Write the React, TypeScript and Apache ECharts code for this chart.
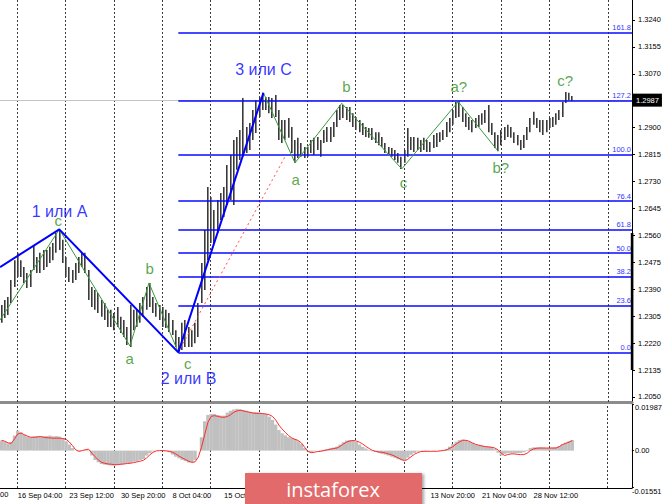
import React, { useEffect, useRef } from 'react';
import * as echarts from 'echarts';

// ---- price bars (8-hour bars), highs and lows ----
const highs = [
  1.2340, 1.2356, 1.2366, 1.2419, 1.2482, 1.2505, 1.2482, 1.2460, 1.2441, 1.2451,
  1.2530, 1.2492, 1.2505, 1.2514, 1.2514, 1.2524, 1.2536, 1.2568, 1.2577, 1.2546,
  1.2492, 1.2460, 1.2451, 1.2473, 1.2492, 1.2505, 1.2505, 1.2451, 1.2397, 1.2388,
  1.2378, 1.2356, 1.2347, 1.2325, 1.2325, 1.2315, 1.2334, 1.2303, 1.2293, 1.2271,
  1.2340, 1.2325, 1.2325, 1.2347, 1.2366, 1.2397, 1.2410, 1.2366, 1.2347, 1.2340,
  1.2334, 1.2325, 1.2315, 1.2293, 1.2261, 1.2239, 1.2284, 1.2293, 1.2271, 1.2261,
  1.2284, 1.2347, 1.2473, 1.2577, 1.2713, 1.2681, 1.2640, 1.2672, 1.2694, 1.2713,
  1.2782, 1.2814, 1.2861, 1.2871, 1.2893, 1.2994, 1.2902, 1.2915, 1.2956, 1.2987,
  1.2997, 1.3010, 1.2997, 1.2997, 1.2994, 1.3003, 1.2956, 1.2924, 1.2924, 1.2931,
  1.2902, 1.2861, 1.2868, 1.2852, 1.2839, 1.2839, 1.2861, 1.2868, 1.2871, 1.2861,
  1.2893, 1.2902, 1.2902, 1.2918, 1.2956, 1.2972, 1.2972, 1.2965, 1.2965, 1.2946,
  1.2934, 1.2924, 1.2915, 1.2902, 1.2899, 1.2899, 1.2886, 1.2886, 1.2871, 1.2852,
  1.2839, 1.2836, 1.2830, 1.2820, 1.2808, 1.2830, 1.2899, 1.2871, 1.2871, 1.2868,
  1.2861, 1.2868, 1.2861, 1.2855, 1.2877, 1.2883, 1.2886, 1.2893, 1.2918, 1.2931,
  1.2956, 1.2981, 1.2984, 1.2965, 1.2946, 1.2934, 1.2924, 1.2931, 1.2940, 1.2946,
  1.2956, 1.2972, 1.2915, 1.2886, 1.2877, 1.2893, 1.2902, 1.2909, 1.2902, 1.2886,
  1.2877, 1.2861, 1.2877, 1.2902, 1.2931, 1.2950, 1.2931, 1.2924, 1.2924, 1.2924,
  1.2931, 1.2934, 1.2946, 1.2956, 1.2981, 1.3013, 1.3010, 1.3000,
];
const lows = [
  1.2284, 1.2299, 1.2309, 1.2347, 1.2397, 1.2429, 1.2429, 1.2410, 1.2394, 1.2397,
  1.2451, 1.2441, 1.2441, 1.2451, 1.2460, 1.2473, 1.2482, 1.2505, 1.2514, 1.2473,
  1.2429, 1.2413, 1.2410, 1.2419, 1.2441, 1.2460, 1.2441, 1.2356, 1.2334, 1.2325,
  1.2315, 1.2303, 1.2293, 1.2271, 1.2271, 1.2261, 1.2271, 1.2252, 1.2239, 1.2214,
  1.2208, 1.2261, 1.2271, 1.2284, 1.2303, 1.2325, 1.2334, 1.2315, 1.2303, 1.2293,
  1.2271, 1.2268, 1.2255, 1.2246, 1.2208, 1.2192, 1.2198, 1.2208, 1.2208, 1.2208,
  1.2220, 1.2239, 1.2347, 1.2388, 1.2482, 1.2536, 1.2536, 1.2568, 1.2609, 1.2618,
  1.2656, 1.2672, 1.2656, 1.2767, 1.2798, 1.2808, 1.2820, 1.2830, 1.2861, 1.2883,
  1.2934, 1.2956, 1.2956, 1.2946, 1.2931, 1.2934, 1.2861, 1.2852, 1.2861, 1.2868,
  1.2820, 1.2789, 1.2804, 1.2808, 1.2804, 1.2808, 1.2820, 1.2814, 1.2830, 1.2808,
  1.2852, 1.2855, 1.2855, 1.2871, 1.2902, 1.2924, 1.2931, 1.2924, 1.2918, 1.2902,
  1.2893, 1.2886, 1.2877, 1.2871, 1.2868, 1.2861, 1.2852, 1.2845, 1.2839, 1.2820,
  1.2814, 1.2808, 1.2798, 1.2789, 1.2770, 1.2789, 1.2808, 1.2830, 1.2823, 1.2830,
  1.2823, 1.2830, 1.2823, 1.2823, 1.2836, 1.2839, 1.2855, 1.2861, 1.2871, 1.2886,
  1.2909, 1.2931, 1.2934, 1.2918, 1.2902, 1.2893, 1.2886, 1.2899, 1.2902, 1.2909,
  1.2915, 1.2886, 1.2877, 1.2836, 1.2826, 1.2845, 1.2861, 1.2871, 1.2868, 1.2852,
  1.2845, 1.2830, 1.2836, 1.2861, 1.2886, 1.2909, 1.2899, 1.2886, 1.2877, 1.2886,
  1.2899, 1.2902, 1.2909, 1.2924, 1.2934, 1.2978, 1.2987, 1.2984,
];

// ---- oscillator (histogram + signal) ----
const oscHist = [
  0.0043, 0.0038, 0.0031, 0.0036, 0.0064, 0.0085, 0.0078, 0.0068, 0.0060, 0.0057,
  0.0060, 0.0061, 0.0061, 0.0061, 0.0062, 0.0064, 0.0061, 0.0062, 0.0060, 0.0054,
  0.0040, 0.0026, 0.0011, 0.0000, -0.0003, 0.0000, 0.0003, -0.0003, -0.0021, -0.0040,
  -0.0050, -0.0057, -0.0060, -0.0062, -0.0064, -0.0064, -0.0061, -0.0060, -0.0057, -0.0054,
  -0.0053, -0.0047, -0.0044, -0.0040, -0.0036, -0.0021, -0.0011, -0.0003, 0.0000, 0.0000,
  0.0000, -0.0001, -0.0007, -0.0017, -0.0026, -0.0033, -0.0040, -0.0045, -0.0051, -0.0050,
  -0.0040, 0.0000, 0.0057, 0.0125, 0.0152, 0.0156, 0.0156, 0.0152, 0.0149, 0.0149,
  0.0162, 0.0170, 0.0175, 0.0178, 0.0176, 0.0173, 0.0170, 0.0166, 0.0163, 0.0163,
  0.0162, 0.0159, 0.0156, 0.0145, 0.0131, 0.0111, 0.0088, 0.0074, 0.0065, 0.0057,
  0.0053, 0.0050, 0.0040, 0.0028, 0.0011, -0.0003, -0.0007, -0.0003, 0.0000, 0.0003,
  0.0004, 0.0007, 0.0010, 0.0013, 0.0017, 0.0026, 0.0036, 0.0043, 0.0045, 0.0044,
  0.0037, 0.0026, 0.0016, 0.0009, 0.0003, -0.0003, -0.0006, -0.0010, -0.0014, -0.0017,
  -0.0021, -0.0026, -0.0031, -0.0037, -0.0041, -0.0040, -0.0030, -0.0018, -0.0010, -0.0004,
  -0.0001, -0.0001, -0.0001, 0.0000, -0.0001, 0.0000, 0.0001, 0.0003, 0.0007, 0.0017,
  0.0028, 0.0038, 0.0045, 0.0047, 0.0045, 0.0038, 0.0033, 0.0027, 0.0023, 0.0020,
  0.0017, 0.0017, 0.0016, 0.0007, -0.0009, -0.0021, -0.0014, -0.0011, -0.0011, -0.0011,
  -0.0011, -0.0010, -0.0007, 0.0003, 0.0011, 0.0014, 0.0014, 0.0014, 0.0013, 0.0011,
  0.0011, 0.0013, 0.0014, 0.0020, 0.0028, 0.0034, 0.0040, 0.0045,
];
const oscSignal = [
  0.0044, 0.0040, 0.0033, 0.0031, 0.0050, 0.0071, 0.0075, 0.0068, 0.0062, 0.0057,
  0.0057, 0.0058, 0.0060, 0.0057, 0.0055, 0.0054, 0.0053, 0.0053, 0.0053, 0.0051,
  0.0048, 0.0037, 0.0021, 0.0003, -0.0003, 0.0000, 0.0004, 0.0006, -0.0011, -0.0026,
  -0.0040, -0.0050, -0.0054, -0.0057, -0.0058, -0.0060, -0.0060, -0.0058, -0.0057, -0.0055,
  -0.0054, -0.0051, -0.0048, -0.0045, -0.0041, -0.0031, -0.0018, -0.0007, -0.0001, 0.0000,
  0.0000, -0.0001, -0.0003, -0.0007, -0.0014, -0.0023, -0.0031, -0.0038, -0.0045, -0.0050,
  -0.0048, -0.0028, 0.0014, 0.0068, 0.0121, 0.0146, 0.0149, 0.0146, 0.0143, 0.0142,
  0.0145, 0.0153, 0.0163, 0.0169, 0.0172, 0.0169, 0.0166, 0.0163, 0.0160, 0.0159,
  0.0159, 0.0158, 0.0156, 0.0153, 0.0146, 0.0131, 0.0109, 0.0092, 0.0078, 0.0064,
  0.0054, 0.0048, 0.0043, 0.0033, 0.0014, -0.0003, -0.0009, -0.0007, -0.0004, -0.0003,
  0.0000, 0.0003, 0.0006, 0.0009, 0.0011, 0.0018, 0.0028, 0.0036, 0.0041, 0.0043,
  0.0041, 0.0036, 0.0028, 0.0018, 0.0009, 0.0001, -0.0003, -0.0006, -0.0007, -0.0010,
  -0.0014, -0.0018, -0.0024, -0.0031, -0.0038, -0.0043, -0.0037, -0.0026, -0.0016, -0.0009,
  -0.0004, -0.0003, -0.0003, -0.0003, -0.0003, -0.0003, -0.0001, 0.0000, 0.0003, 0.0010,
  0.0017, 0.0028, 0.0037, 0.0044, 0.0044, 0.0040, 0.0033, 0.0027, 0.0023, 0.0020,
  0.0017, 0.0016, 0.0014, 0.0011, 0.0003, -0.0011, -0.0021, -0.0017, -0.0014, -0.0014,
  -0.0016, -0.0017, -0.0017, -0.0011, 0.0000, 0.0007, 0.0010, 0.0011, 0.0011, 0.0011,
  0.0011, 0.0011, 0.0011, 0.0017, 0.0026, 0.0031, 0.0036, 0.0043,
];

// ---- axes ----
const timeLabelIdx = [5, 21, 37, 53, 69, 85, 101, 117, 133, 149, 165];
const timeLabels = [
  '16 Sep 04:00', '23 Sep 12:00', '30 Sep 20:00', '8 Oct 04:00', '15 Oct 12:00',
  '22 Oct 20:00', '30 Oct 04:00', '6 Nov 12:00', '13 Nov 20:00', '21 Nov 04:00', '28 Nov 12:00',
];
const weekLines = [4.8, 19.8, 34.8, 49.8, 64.8, 79.8, 94.8, 109.8, 124.8, 139.8, 154.8, 169.8, 188];
const priceTicks = [1.2050, 1.2135, 1.2220, 1.2305, 1.2390, 1.2475, 1.2560, 1.2645, 1.2730, 1.2815, 1.2900, 1.3070, 1.3155, 1.3240];
const oscTicks = [-0.01551, 0, 0.01987];
const oscTickLabels = ['-0.01551', '0.00', '0.01987'];
const currentPrice = 1.2987;

// ---- fibonacci grid ----
const fibLevels = ['0.0', '23.6', '38.2', '50.0', '61.8', '76.4', '100.0', '127.2', '161.8'];
const fibPrices = [1.2191, 1.2339, 1.2431, 1.2504, 1.2578, 1.2668, 1.2815, 1.2986, 1.3201];
const fibStartIdx = 54.8;

// ---- wave markup ----
const majorWaveX = [-0.5, 17.9, 54.8, 81.2];
const majorWaveY = [1.2460, 1.2579, 1.2191, 1.3010];
const minorLeftX = [-0.5, 17.9, 39.8, 45.7, 54.8];
const minorLeftY = [1.2293, 1.2579, 1.2211, 1.2410, 1.2191];
const minorRightX = [81.2, 91, 105.5, 124.1, 141.6, 153.9];
const minorRightY = [1.3010, 1.2789, 1.2977, 1.2770, 1.2982, 1.2827];
const trendX = [54.8, 88.2];
const trendY = [1.2191, 1.2814];
const majorLabels = ['1 или A', '2 или B', '3 или C'];
const majorLabelX = [17.95, 57.95, 81.2];
const majorLabelY = [1.2637, 1.2109, 1.3085];
const minorLabels = ['c', 'a', 'b', 'c', 'a', 'b', 'c', 'a?', 'b?', 'c?'];
const minorLabelX = [17.6, 39.7, 45.9, 57.7, 91.2, 106.9, 124.6, 141.8, 154.8, 174.8];
const minorLabelY = [1.2608, 1.2170, 1.2457, 1.2156, 1.2737, 1.3031, 1.2726, 1.3031, 1.2774, 1.3049];

const FONT = '"Liberation Sans", Arial, sans-serif';
const XMIN = -0.5;
const XMAX = 195.5;

export default function App() {
  const ref = useRef<HTMLDivElement>(null);
  useEffect(() => {
    if (!ref.current) return;
    const chart = echarts.init(ref.current, null, { renderer: 'svg' });
    const zip = (xs: number[], ys: number[]) => xs.map((x, i) => [x, ys[i]]);
    const gridLineData = weekLines.map((x) => ({ xAxis: x }));
    const oscRichKeys = ['lo', 'mid', 'hi'];

    const option: any = {
      animation: false,
      backgroundColor: '#ffffff',
      textStyle: { fontFamily: FONT },
      grid: [
        { left: 0, right: 33, top: 0, height: 402 },
        { left: 0, right: 33, top: 404, height: 84 },
      ],
      xAxis: [
        {
          type: 'value', gridIndex: 0, min: XMIN, max: XMAX,
          axisLine: { show: true, onZero: false, lineStyle: { color: '#8c8c8c', width: 3 } },
          axisTick: { show: false }, axisLabel: { show: false }, splitLine: { show: false },
        },
        {
          type: 'value', gridIndex: 1, min: XMIN, max: XMAX,
          axisLine: { show: true, onZero: false, lineStyle: { color: '#000', width: 1 } },
          axisTick: { show: false }, splitLine: { show: false },
          axisLabel: {
            customValues: timeLabelIdx,
            formatter: (v: number) => timeLabels[timeLabelIdx.indexOf(v)] ?? '',
            align: 'left', fontSize: 7.5, color: '#000', margin: 3, fontFamily: FONT,
          },
        },
      ],
      yAxis: [
        {
          type: 'value', gridIndex: 0, position: 'right', min: 1.20342, max: 1.33031,
          axisLine: { show: true, onZero: false, lineStyle: { color: '#000', width: 1 } },
          axisTick: { show: true, length: 3, customValues: priceTicks, lineStyle: { color: '#000' } },
          axisLabel: {
            customValues: priceTicks, formatter: (v: number) => v.toFixed(4),
            fontSize: 7.5, color: '#000', margin: 6, fontFamily: FONT,
          },
          splitLine: { show: false },
        },
        {
          type: 'value', gridIndex: 1, position: 'right', min: -0.01594, max: 0.01987,
          axisLine: { show: true, onZero: false, lineStyle: { color: '#000', width: 1 } },
          axisTick: { show: true, length: 2, customValues: oscTicks, lineStyle: { color: '#000' } },
          axisLabel: {
            customValues: oscTicks,
            formatter: (v: number) => {
              const k = oscTicks.indexOf(v);
              if (k < 0) return '';
              return '{' + oscRichKeys[k] + '|' + oscTickLabels[k] + '}';
            },
            rich: {
              lo: { padding: [9, 0, 0, 0], fontSize: 7.5, color: '#000', fontFamily: FONT },
              mid: { padding: [0, 0, 0, 3], fontSize: 7.5, color: '#000', fontFamily: FONT },
              hi: { padding: [7, 0, 0, 3], fontSize: 7.5, color: '#000', fontFamily: FONT },
            },
            fontSize: 7.5, color: '#000', margin: 0, fontFamily: FONT,
          },
          splitLine: { show: false },
        },
      ],
      series: [
        {
          type: 'custom', name: 'bars', xAxisIndex: 0, yAxisIndex: 0, z: 2, clip: true,
          data: highs.map((h, i) => [i, h, lows[i]]),
          encode: { x: 0, y: [1, 2] },
          renderItem: (params: any, api: any) => {
            const i = api.value(0);
            const top = api.coord([i, api.value(1)]);
            const bot = api.coord([i, api.value(2)]);
            return {
              type: 'rect',
              shape: { x: Math.round(top[0]) - 1, y: top[1], width: 1.6, height: Math.max(1, bot[1] - top[1]) },
              style: { fill: '#3a3a3a' },
            };
          },
          markLine: {
            silent: true, symbol: 'none', z: 1, animation: false, precision: 4,
            label: { show: false },
            lineStyle: { color: '#3c3c3c', width: 1, type: [2, 2] },
            data: [
              ...gridLineData,
              {
                yAxis: currentPrice,
                lineStyle: { color: '#c4c4c4', width: 1, type: 'solid' },
                label: {
                  show: true, position: 'end', distance: 1,
                  formatter: () => currentPrice.toFixed(4),
                  backgroundColor: '#000', color: '#fff', fontSize: 7.5,
                  padding: [3, 3, 2, 3], fontFamily: FONT,
                },
              },
            ],
          },
        },
        {
          type: 'line', name: 'major waves', xAxisIndex: 0, yAxisIndex: 0, z: 4,
          data: zip(majorWaveX, majorWaveY), showSymbol: false, symbol: 'none',
          lineStyle: { color: '#0000ff', width: 2 },
          markLine: {
            silent: true, symbol: 'none', z: 3, animation: false, precision: 4,
            lineStyle: { color: '#0a0aff', width: 1.6, type: 'solid' },
            label: {
              show: true, position: 'insideEndTop', distance: 1,
              formatter: (p: any) => p.name, color: '#3636ff', fontSize: 7.5, fontFamily: FONT,
            },
            data: fibPrices.map((p, k) => [
              { name: fibLevels[k], coord: [fibStartIdx, p] },
              { coord: [XMAX, p] },
            ]),
          },
        },
        {
          type: 'line', name: 'minor left', xAxisIndex: 0, yAxisIndex: 0, z: 3,
          data: zip(minorLeftX, minorLeftY), showSymbol: false, symbol: 'none',
          lineStyle: { color: '#3a9a3a', width: 1 },
        },
        {
          type: 'line', name: 'minor right', xAxisIndex: 0, yAxisIndex: 0, z: 3,
          data: zip(minorRightX, minorRightY), showSymbol: false, symbol: 'none',
          lineStyle: { color: '#3a9a3a', width: 1 },
        },
        {
          type: 'line', name: 'trend', xAxisIndex: 0, yAxisIndex: 0, z: 3,
          data: zip(trendX, trendY), showSymbol: false, symbol: 'none',
          lineStyle: { color: '#ff4a4a', width: 1, type: [2, 3] },
        },
        {
          type: 'scatter', name: 'major labels', xAxisIndex: 0, yAxisIndex: 0, z: 6, silent: true,
          symbolSize: 1, itemStyle: { color: 'rgba(0,0,0,0)' },
          data: majorLabels.map((t, k) => ({ name: t, value: [majorLabelX[k], majorLabelY[k]] })),
          label: { show: true, position: 'inside', formatter: '{b}', color: '#0000ff', fontSize: 16, fontFamily: FONT },
        },
        {
          type: 'scatter', name: 'minor labels', xAxisIndex: 0, yAxisIndex: 0, z: 6, silent: true,
          symbolSize: 1, itemStyle: { color: 'rgba(0,0,0,0)' },
          data: minorLabels.map((t, k) => ({ name: t, value: [minorLabelX[k], minorLabelY[k]] })),
          label: { show: true, position: 'inside', formatter: '{b}', color: '#2f9020', fontSize: 15, fontFamily: FONT },
        },
        {
          type: 'bar', name: 'histogram', xAxisIndex: 1, yAxisIndex: 1, z: 2,
          data: oscHist.map((v, i) => [i, v]), barWidth: 3.4,
          itemStyle: { color: '#c0c0c0' },
          markLine: {
            silent: true, symbol: 'none', z: 1, animation: false, label: { show: false },
            lineStyle: { color: '#3c3c3c', width: 1, type: [2, 2] },
            data: gridLineData,
          },
        },
        {
          type: 'line', name: 'signal', xAxisIndex: 1, yAxisIndex: 1, z: 3,
          data: oscSignal.map((v, i) => [i, v]), showSymbol: false, symbol: 'none',
          lineStyle: { color: '#ff2a2a', width: 1 },
        },
      ],
      graphic: [
        {
          type: 'text', x: 0, y: 494, z: 10,
          style: { text: '00', fontSize: 7.5, fontFamily: FONT, fill: '#000', verticalAlign: 'middle' },
        },
        {
          type: 'rect', z: 10,
          shape: { x: 630.8, y: 233, width: 2.6, height: 137 },
          style: { fill: '#000' },
        },
        {
          type: 'rect', z: 100,
          shape: { x: 245, y: 473, width: 177, height: 33 },
          style: { fill: '#e26b6b', shadowBlur: 3, shadowColor: 'rgba(0,0,0,0.35)', shadowOffsetX: 2, shadowOffsetY: 1 },
        },
        {
          type: 'text', x: 333, y: 489, z: 101,
          style: {
            text: 'instaforex', fill: '#ffffff', fontSize: 20, fontFamily: '"Open Sans", sans-serif',
            align: 'center', verticalAlign: 'middle',
          },
        },
      ],
    };
    chart.setOption(option);
    return () => chart.dispose();
  }, []);
  return (
    <div
      ref={ref}
      style={{ position: 'fixed', left: 0, top: 0, width: 665, height: 504, background: '#fff' }}
    />
  );
}
